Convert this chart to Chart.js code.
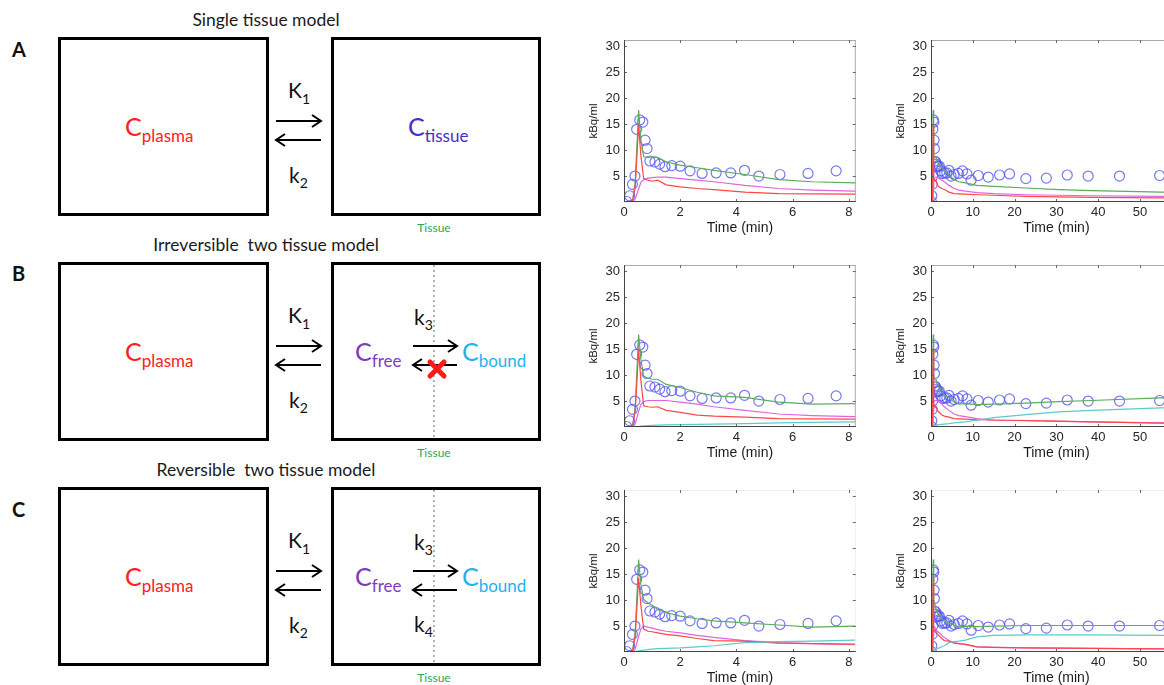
<!DOCTYPE html>
<html>
<head>
<script src="https://cdn.jsdelivr.net/npm/chart.js@4.4.1/dist/chart.umd.min.js"></script>
<style>
html, body { margin: 0; padding: 0; background: #fff; overflow: hidden; }
#page { position: relative; width: 1164px; height: 685px; overflow: hidden; }
#diagram { position: absolute; left: 0; top: 0; }
canvas.kin { position: absolute; }
</style>
</head>
<body>
<div id="page">
  <svg id="diagram" width="580" height="685" xmlns="http://www.w3.org/2000/svg"></svg>
  <canvas class="kin" id="a1" width="278" height="209" style="left:584px;top:28px"></canvas>
  <canvas class="kin" id="a2" width="301" height="209" style="left:891px;top:28px"></canvas>
  <canvas class="kin" id="b1" width="278" height="209" style="left:584px;top:253px"></canvas>
  <canvas class="kin" id="b2" width="301" height="209" style="left:891px;top:253px"></canvas>
  <canvas class="kin" id="c1" width="278" height="209" style="left:584px;top:478px"></canvas>
  <canvas class="kin" id="c2" width="301" height="209" style="left:891px;top:478px"></canvas>
</div>
<script>
// measured tissue activity (same scan in every row)
var tissueTime  = [0.09,0.2,0.3,0.39,0.45,0.56,0.67,0.75,0.82,0.92,1.1,1.27,1.46,1.7,2.0,2.35,2.78,3.28,3.8,4.29,4.8,5.55,6.55,7.55,8.6,9.6,11.3,13.7,16.4,18.8,22.7,27.6,32.6,37.6,45.1,54.7];
var tissueValue = [0.1,1.2,3.4,5.0,14.0,15.8,15.4,11.9,10.3,7.9,7.7,7.3,6.8,7.0,6.9,6.0,5.5,5.6,5.6,6.1,5.0,5.3,5.5,6.0,5.4,4.2,5.1,4.8,5.2,5.4,4.5,4.6,5.2,5.0,5.0,5.1];

// model curves, sampled on one time grid
var modelTime = [0,0.3,0.4,0.52,0.6,0.7,0.85,1.0,1.2,1.5,2,2.6,3.2,4.3,5.5,6.7,8.2,11,15,22.7,30.6,38.4,55,60];

var totalA  = [0,0,4,17.7,12,8.7,8.6,8.7,8.6,7.7,7.1,6.6,6.1,5.3,4.3,3.9,3.7,3.2,3.0,2.7,2.4,2.2,1.9,1.9];
var freeA   = [0,0,0.6,2.5,3.8,4.3,4.6,4.7,4.8,4.8,4.5,4.2,3.9,3.2,2.6,2.3,2.1,1.8,1.6,1.4,1.3,1.2,1.1,1.1];
var plasmaA = [0,0,3,14.8,9,4.5,4.2,4.0,4.2,3.3,2.9,2.6,2.4,1.9,1.6,1.55,1.5,1.4,1.3,1.1,1.0,0.9,0.8,0.8];

var totalB  = [0,0,4,17.8,13,9.8,9.4,9.2,9.2,8.2,7.6,6.7,6.0,5.7,4.8,4.4,4.5,4.3,4.4,4.6,4.9,5.1,5.6,5.7];
var freeB   = [0,0,0.6,3.0,4.3,4.9,5.1,5.1,5.1,5.1,4.8,4.4,3.9,3.2,2.5,2.2,2.0,1.6,1.3,1.2,1.1,1.0,0.8,0.8];
var plasmaB = [0,0,3,14.9,9,4.1,3.9,3.8,3.9,3.2,2.8,2.3,2.1,1.9,1.6,1.55,1.5,1.4,1.35,1.25,1.15,1.0,0.75,0.75];
var boundB  = [0,0,0.05,0.1,0.15,0.2,0.25,0.3,0.35,0.4,0.45,0.5,0.55,0.65,0.8,0.9,1.0,1.3,1.8,2.4,2.9,3.2,3.7,3.8];

var totalC  = [0,0,4,17.8,13,10.1,9.5,9.0,8.2,7.6,6.9,6.4,6.0,5.6,5.2,4.8,5.0,4.9,5.0,5.1,5.1,5.1,5.1,5.1];
var freeC   = [0,0,0.6,3.0,4.4,5.0,4.8,4.6,4.3,4.0,3.7,3.2,2.8,2.2,1.8,1.6,1.4,1.0,0.9,0.8,0.75,0.7,0.6,0.6];
var plasmaC = [0,0,3,14.3,9,4.4,4.0,3.9,3.7,3.4,3.1,2.6,2.2,2.1,1.7,1.6,1.5,1.0,0.9,0.8,0.75,0.7,0.6,0.6];
var boundC  = [0,0,0.1,0.2,0.3,0.35,0.45,0.55,0.65,0.7,0.8,1.0,1.2,1.8,2.0,2.1,2.3,2.9,3.2,3.3,3.3,3.3,3.2,3.2];

// axis ticks
var yTicks = [5,10,15,20,25,30];
var xTicksShort = [0,2,4,6,8];
var xTicksLong = [0,10,20,30,40,50,60];

// ---------- diagram on the left ----------
var NS = "http://www.w3.org/2000/svg";
var svg = document.getElementById("diagram");
function el(name, attrs, parent){
	var e = document.createElementNS(NS, name);
	for (var k in attrs) e.setAttribute(k, attrs[k]);
	(parent || svg).appendChild(e);
	return e;
}
function txt(x, y, parts, attrs){
	var t = el("text", Object.assign({x:x, y:y, "font-family":"Lato, 'Open Sans', sans-serif"}, attrs || {}));
	parts.forEach(function(p){
		var s = el("tspan", {"font-size":p[1]}, t);
		if (p[2]) s.setAttribute("dy", p[2]);
		s.textContent = p[0];
	});
	return t;
}
function arrow(x1, x2, y){
	var dir = x2 > x1 ? 1 : -1;
	el("line", {x1:x1, y1:y, x2:x2, y2:y, stroke:"#000", "stroke-width":2});
	el("path", {d:"M"+(x2-dir*9)+","+(y-6)+" L"+x2+","+y+" L"+(x2-dir*9)+","+(y+6), fill:"none", stroke:"#000", "stroke-width":2});
}

var rows = [
	{top:37,  letter:"A", letterY:57,  title:"Single tissue model", kind:1},
	{top:262, letter:"B", letterY:281, title:"Irreversible  two tissue model", kind:2},
	{top:487, letter:"C", letterY:517, title:"Reversible  two tissue model", kind:3}
];

rows.forEach(function(r){
	var T = r.top;
	txt(266, T-11, [[r.title, 17.5]], {"text-anchor":"middle", fill:"#1a1a1a", style:"white-space:pre"});
	txt(12, r.letterY, [[r.letter, 20]], {"font-weight":"bold", fill:"#111"});
	el("rect", {x:59.5, y:T+1.5, width:208, height:176, fill:"none", stroke:"#000", "stroke-width":3});
	el("rect", {x:332.5, y:T+1.5, width:207, height:176, fill:"none", stroke:"#000", "stroke-width":3});
	arrow(276, 321, T+84);
	arrow(321, 276, T+103);
	txt(288, T+61, [["K", 21], ["1", 14, 6]], {fill:"#111"});
	txt(289, T+146, [["k", 21], ["2", 14, 5]], {fill:"#111"});
	txt(125, T+99, [["C", 25], ["plasma", 17, 6]], {fill:"#ff2020"});
	txt(434, T+190, [["Tissue", 12]], {"text-anchor":"middle", fill:"#1faa55", "dominant-baseline":"central"});
	if (r.kind === 1){
		txt(408, T+99, [["C", 25], ["tissue", 17, 6]], {fill:"#4a2ccc"});
		return;
	}
	el("line", {x1:434, y1:T+3, x2:434, y2:T+176, stroke:"#999", "stroke-width":1.5, "stroke-dasharray":"2,3"});
	txt(355, T+99, [["C", 25], ["free", 17, 6]], {fill:"#7c3cc0"});
	txt(462, T+99, [["C", 25], ["bound", 17, 6]], {fill:"#1eb2f2"});
	arrow(413, 457, T+84);
	arrow(457, 413, T+103);
	txt(414, T+63, [["k", 21], ["3", 14, 5]], {fill:"#111"});
	if (r.kind === 2){
		el("path", {d:"M430,"+(T+100)+" L444,"+(T+114)+" M444,"+(T+100)+" L430,"+(T+114), stroke:"#ff1a1a", "stroke-width":5, "stroke-linecap":"round"});
	} else {
		txt(414, T+145, [["k", 21], ["4", 14, 5]], {fill:"#111"});
	}
});

// ---------- kinetic curves ----------
var frame = {
	id: "frame",
	afterDatasetsDraw: function(chart, args, opts){
		var ctx = chart.ctx, a = chart.chartArea, x = chart.scales.x, y = chart.scales.y;
		function seg(x1, y1, x2, y2){ ctx.beginPath(); ctx.moveTo(x1, y1); ctx.lineTo(x2, y2); ctx.stroke(); }
		ctx.save();
		ctx.lineWidth = 1;
		ctx.strokeStyle = opts.topColor;
		seg(a.left, a.top + 0.5, a.right, a.top + 0.5);
		seg(a.right - 0.5, a.top, a.right - 0.5, a.bottom);
		ctx.strokeStyle = "#666";
		x.ticks.forEach(function(t){
			var px = Math.round(x.getPixelForValue(t.value)) + 0.5;
			seg(px, a.bottom, px, a.bottom - 3);
			seg(px, a.top, px, a.top + 3);
		});
		y.ticks.forEach(function(t){
			var py = Math.round(y.getPixelForValue(t.value)) + 0.5;
			seg(a.left, py, a.left + 3, py);
			seg(a.right, py, a.right - 3, py);
		});
		ctx.strokeStyle = "#444";
		seg(a.left + 0.5, a.top, a.left + 0.5, a.bottom);
		seg(a.left, a.bottom - 0.5, a.right, a.bottom - 0.5);
		ctx.restore();
	}
};

function pts(xs, ys){ return xs.map(function(v, i){ return {x:v, y:ys[i]}; }); }

function curve(values, color, order){
	return {data: pts(modelTime, values), showLine: true, borderColor: color, borderWidth: 1.2,
		pointRadius: 0, fill: false, order: order};
}

function makeChart(id, xMax, xTicks, lines, topColor){
	var sets = [{data: pts(tissueTime, tissueValue), showLine: false, pointRadius: 5,
		pointBorderWidth: 1.2, pointBorderColor: "rgba(85,85,245,0.8)", pointBackgroundColor: "rgba(0,0,0,0)", order: 10}];
	var cols = [["#5aad5a", 4], ["#e064e0", 3], ["#ff4646", 2], ["#5ccaca", 1]];
	lines.forEach(function(v, i){ if (v) sets.push(curve(v, cols[i][0], cols[i][1])); });

	return new Chart(document.getElementById(id), {
		type: "scatter",
		data: {datasets: sets},
		options: {
			responsive: false,
			animation: false,
			layout: {padding: {top: 12, right: 5, left: 0, bottom: 0}},
			plugins: {legend: {display: false}, tooltip: {enabled: false}, frame: {topColor: topColor}},
			scales: {
				x: {
					type: "linear", min: 0, max: xMax,
					grid: {display: false, drawTicks: false}, border: {display: false},
					afterBuildTicks: function(s){ s.ticks = xTicks.map(function(v){ return {value: v}; }); },
					afterFit: function(s){ s.height = 35; },
					ticks: {font: {family: "'Liberation Sans', Arial, sans-serif", size: 13}, color: "#262626", padding: 3},
					title: {display: true, text: "Time (min)", color: "#1a1a1a", padding: {top: 2, bottom: 0},
						font: {family: "'Liberation Sans', Arial, sans-serif", size: 14}}
				},
				y: {
					type: "linear", min: 0, max: 31.2,
					grid: {display: false, drawTicks: false}, border: {display: false},
					afterBuildTicks: function(s){ s.ticks = yTicks.map(function(v){ return {value: v}; }); },
					afterFit: function(s){ s.width = 40; },
					ticks: {font: {family: "'Liberation Sans', Arial, sans-serif", size: 13}, color: "#262626", padding: 4},
					title: {display: true, text: "kBq/ml", color: "#1a1a1a", padding: {top: 3, bottom: 2},
						font: {family: "'Liberation Sans', Arial, sans-serif", size: 11.5}}
				}
			}
		},
		plugins: [frame]
	});
}

makeChart("a1", 8.25, xTicksShort, [totalA, freeA, plasmaA, null], "#aaa");
makeChart("a2", 60, xTicksLong, [totalA, freeA, plasmaA, null], "#aaa");
makeChart("b1", 8.25, xTicksShort, [totalB, freeB, plasmaB, boundB], "#aaa");
makeChart("b2", 60, xTicksLong, [totalB, freeB, plasmaB, boundB], "#aaa");
makeChart("c1", 8.25, xTicksShort, [totalC, freeC, plasmaC, boundC], "#eee");
makeChart("c2", 60, xTicksLong, [totalC, freeC, plasmaC, boundC], "#eee");
</script>
</body>
</html>
